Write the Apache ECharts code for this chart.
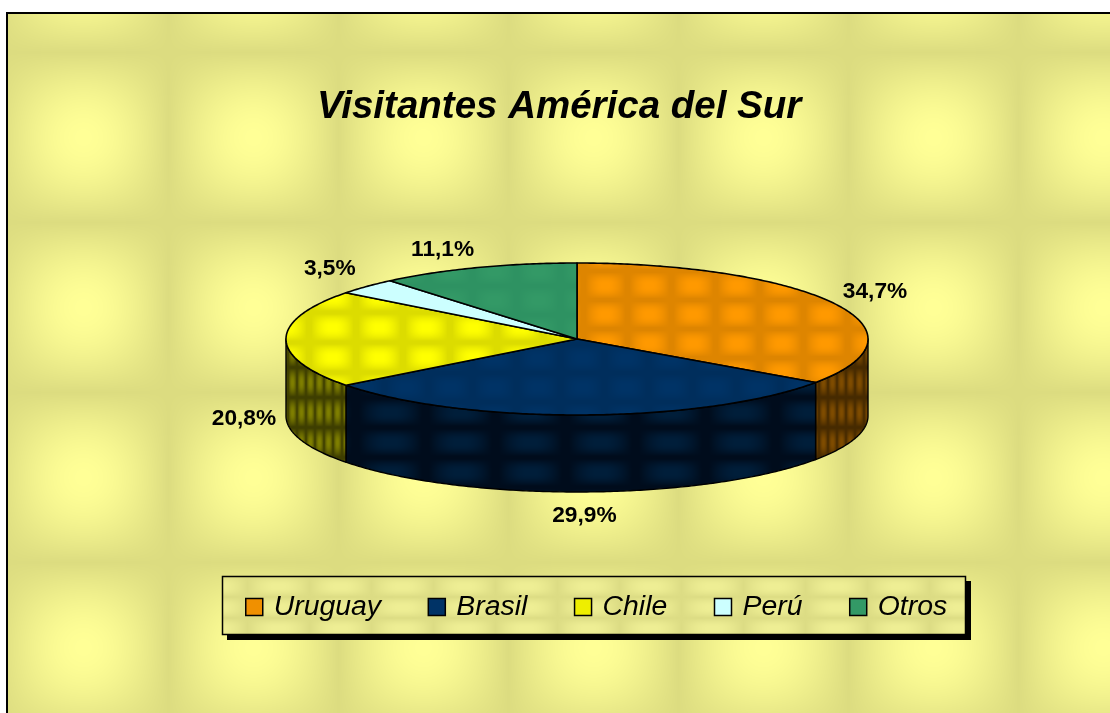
<!DOCTYPE html>
<html><head><meta charset="utf-8">
<style>html,body{margin:0;padding:0;background:#fff;overflow:hidden}#c{width:1110px;height:713px}</style>
<script src="https://cdn.jsdelivr.net/npm/echarts@6/dist/echarts.min.js"></script>
</head><body><div id="c"></div>
<script>
// Data
const titleText = 'Visitantes América del Sur';
const categories = ['Uruguay', 'Brasil', 'Chile', 'Perú', 'Otros'];
const values = [34.7, 29.9, 20.8, 3.5, 11.1];
const percentLabels = ['34,7%', '29,9%', '20,8%', '3,5%', '11,1%'];

// Styles and layout
const FONT = '"Liberation Sans", Arial, sans-serif';
const CX = 577, CY = 339, RX = 291, RY = 76, DEPTH = 77;
const labelOffsets = [[40, -12], [1, 101], [-42, 80], [-37, -18], [-35, -18]];
const legendColors = ['#F09000', '#003366', '#EEEE00', '#CCFFFF', '#339966'];

function smooth(a, b, x) { const t = Math.min(1, Math.max(0, (x - a) / (b - a))); return t * t * (3 - 2 * t); }
function makeTile(w, h, bx, by, dark, bright, lo, hi) {
  const cv = document.createElement('canvas'); cv.width = w; cv.height = h;
  const ctx = cv.getContext('2d'), im = ctx.createImageData(w, h);
  for (let j = 0; j < h; j++) for (let i = 0; i < w; i++) {
    let dx = Math.abs(((i - bx) % w + w) % w); dx = Math.min(dx, w - dx) / (w / 2);
    let dy = Math.abs(((j - by) % h + h) % h); dy = Math.min(dy, h - dy) / (h / 2);
    const f = Math.sqrt((1 - smooth(lo, hi, dx)) * (1 - smooth(lo, hi, dy)));
    const p = (j * w + i) * 4;
    for (let k = 0; k < 3; k++) im.data[p + k] = dark[k] + (bright[k] - dark[k]) * f;
    im.data[p + 3] = 255;
  }
  ctx.putImageData(im, 0, 0);
  return { image: cv, repeat: 'repeat' };
}
const bgFill = makeTile(170, 170, 83, 137, [220, 220, 128], [255, 255, 150], 0, 1);
const legendFill = makeTile(62, 21, 30, 19, [220, 220, 132], [238, 238, 148], 0.1, 1);
const topFills = [
  makeTile(44, 29, 33, 24, [222, 133, 0], [255, 153, 0], 0.1, 0.9),
  makeTile(44, 29, 10, 10, [0, 46, 92], [0, 51, 102], 0.1, 0.9),
  makeTile(47, 30, 3, 27, [220, 220, 0], [255, 255, 0], 0.1, 0.9),
  makeTile(44, 29, 10, 10, [204, 255, 255], [204, 255, 255], 0.1, 0.9),
  makeTile(44, 29, 10, 10, [46, 146, 98], [51, 153, 102], 0.1, 0.9)
];
const wallFills = [
  makeTile(9, 30, 4, 22, [70, 42, 0], [127, 76, 0], 0.05, 0.95),
  makeTile(70, 30, 40, 22, [0, 12, 28], [0, 30, 58], 0.1, 0.9),
  makeTile(9, 30, 4, 22, [62, 62, 0], [127, 127, 0], 0.05, 0.95),
  null, null
];

function pt(deg, dy) {
  const a = deg * Math.PI / 180;
  return [CX + RX * Math.sin(a), CY - RY * Math.cos(a) + (dy || 0)];
}
function arcPts(a0, a1, dy) {
  const n = Math.max(2, Math.ceil(Math.abs(a1 - a0) * 1.5)), out = [];
  for (let i = 0; i <= n; i++) out.push(pt(a0 + (a1 - a0) * i / n, dy));
  return out;
}
const total = values.reduce((s, v) => s + v, 0);
function startAngle(idx) { return values.slice(0, idx).reduce((s, v) => s + v, 0) / total * 360; }

const series = categories.map((name, idx) => ({
  type: 'custom', name, coordinateSystem: 'none', silent: true, animation: false,
  itemStyle: { color: legendColors[idx] },
  data: [[values[idx]]],
  z: 2,
  renderItem: (params, api) => {
    const v = api.value(0), a0 = startAngle(idx), a1 = a0 + v / total * 360, children = [];
    const w0 = Math.max(a0, 90), w1 = Math.min(a1, 270);
    if (w1 > w0) {
      const top = arcPts(w0, w1, 0), bottom = arcPts(w1, w0, DEPTH);
      children.push({ type: 'polygon', silent: true, shape: { points: top.concat(bottom) },
        style: { fill: wallFills[idx], stroke: '#000', lineWidth: 1.4, lineJoin: 'round' } });
    }
    children.push({ type: 'polygon', silent: true, shape: { points: [[CX, CY]].concat(arcPts(a0, a1, 0)) },
      style: { fill: topFills[idx], stroke: '#000', lineWidth: 1.6, lineJoin: 'round' } });
    const mid = (a0 + a1) / 2, anchor = pt(mid, 0), off = labelOffsets[idx];
    children.push({ type: 'text', silent: true, z2: 10, style: {
      text: percentLabels[idx], x: anchor[0] + off[0], y: anchor[1] + off[1], align: 'center', verticalAlign: 'middle',
      fill: '#000', font: 'bold 22.7px ' + FONT } });
    return { type: 'group', children };
  }
}));

const chart = echarts.init(document.getElementById('c'), null, { renderer: 'canvas' });
chart.setOption({
  animation: false,
  backgroundColor: '#fff',
  title: { text: titleText, left: 317, top: 88, padding: 0,
    textStyle: { fontFamily: FONT, fontSize: 38.5, fontWeight: 'bold', fontStyle: 'italic', color: '#000' } },
  legend: {
    left: 222, top: 579, orient: 'horizontal', icon: 'rect', itemWidth: 17, itemHeight: 17, itemGap: 46.5,
    padding: [14, 18, 14, 23], selectedMode: false,
    itemStyle: { borderColor: '#000', borderWidth: 1.5 },
    textStyle: { fontFamily: FONT, fontSize: 28.4, fontStyle: 'italic', color: '#000', padding: [0, 0, 0, 6] },
    data: categories
  },
  graphic: { elements: [
    { type: 'rect', silent: true, z: 0, shape: { x: 7, y: 13, width: 1120, height: 720 },
      style: { fill: bgFill, stroke: '#000', lineWidth: 2 } },
    { type: 'rect', silent: true, z: 1, shape: { x: 227, y: 581, width: 744, height: 59 },
      style: { fill: '#000' } },
    { type: 'rect', silent: true, z: 1, shape: { x: 222.5, y: 576.5, width: 743, height: 58 },
      style: { fill: legendFill, stroke: '#000', lineWidth: 1.5 } }
  ] },
  series
});
</script></body></html>
